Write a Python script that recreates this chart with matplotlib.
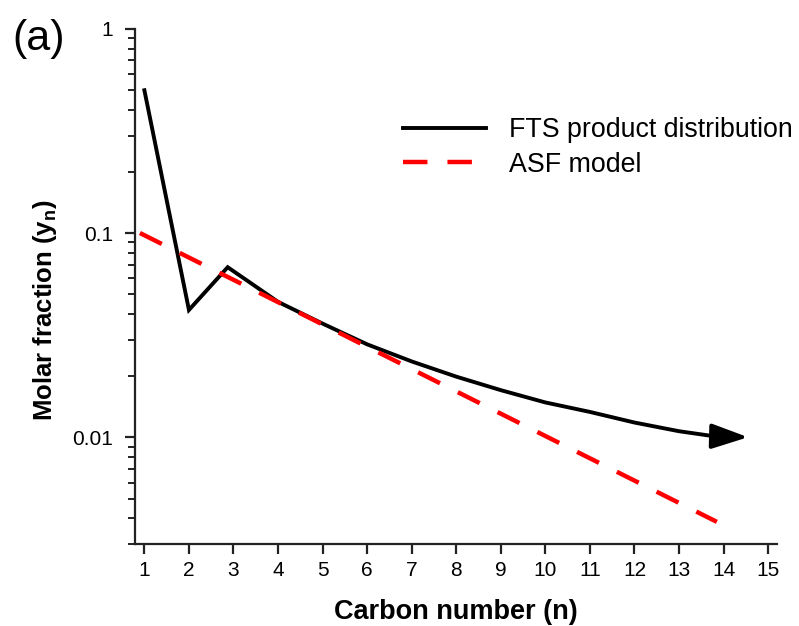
import matplotlib
matplotlib.use("Agg")
import matplotlib.pyplot as plt
from matplotlib.ticker import LogLocator, FixedLocator, NullFormatter

plt.rcParams['font.family'] = ['Liberation Sans', 'DejaVu Sans']
plt.rcParams['mathtext.fontset'] = 'custom'
plt.rcParams['mathtext.bf'] = 'Liberation Sans:bold'
plt.rcParams['mathtext.rm'] = 'Liberation Sans'

# FTS product distribution (molar fraction vs carbon number)
fts_n = [1, 2, 2.87, 4, 5, 6, 7, 8, 9, 10, 11, 12, 13, 13.8]
fts_y = [0.5, 0.042, 0.068, 0.046, 0.036, 0.0285, 0.0235, 0.0198, 0.0170,
         0.0148, 0.0133, 0.0118, 0.0107, 0.0101]
arrow_tip = (14.55, 0.0100)

# ASF model (straight line on log scale)
asf_n = [0.9, 13.85]
asf_y = [0.1, 0.00385]

x_ticks = list(range(1, 16))
y_ticks = [0.01, 0.1, 1]
y_tick_labels = ["0.01", "0.1", "1"]

fig = plt.figure(figsize=(7.99, 6.26), dpi=100)
ax = fig.add_axes([0.169, 0.131, 0.8035, 0.823])

ax.plot(fts_n, fts_y, color='black', lw=2.8, solid_joinstyle='miter',
        label='FTS product distribution')
ax.annotate('', xy=arrow_tip, xytext=(fts_n[-1], fts_y[-1]),
            arrowprops=dict(arrowstyle='-|>,head_length=1.6,head_width=0.55',
                            color='black', lw=2.8, shrinkA=0, shrinkB=0,
                            mutation_scale=14))
ax.plot(asf_n, asf_y, color='#ff0000', lw=3.2, dashes=(5.5, 4.5),
        label='ASF model')

ax.set_yscale('log')
ax.set_xlim(0.79, 15.2)
ax.set_ylim(0.003, 1)

ax.xaxis.set_major_locator(FixedLocator(x_ticks))
ax.set_xticklabels([str(t) for t in x_ticks])
ax.yaxis.set_major_locator(FixedLocator(y_ticks))
ax.set_yticklabels(y_tick_labels)
ax.yaxis.set_minor_locator(LogLocator(base=10, subs=range(2, 10)))
ax.yaxis.set_minor_formatter(NullFormatter())

for side in ('top', 'right'):
    ax.spines[side].set_visible(False)
for side in ('left', 'bottom'):
    ax.spines[side].set_linewidth(1.6)
    ax.spines[side].set_color('#222222')

ax.tick_params(axis='both', which='major', direction='out', length=7,
               width=1.6, color='#222222', labelsize=15, pad=5)
ax.tick_params(axis='y', which='major', pad=9)
ax.tick_params(axis='y', which='minor', direction='out', length=5,
               width=1.4, color='#222222')

ax.set_xlabel('Carbon number (n)', fontsize=19.5, fontweight='bold')
ax.set_ylabel('Molar fraction (y$_\\mathbf{n}$)', fontsize=18.5,
              fontweight='bold')
ax.yaxis.set_label_coords(45 / 799, 0.5, transform=fig.transFigure)
ax.xaxis.set_label_coords(0.5, 1 - 612 / 626, transform=fig.transFigure)
ax.xaxis.label.set_va('center')
ax.yaxis.label.set_va('center')
ax.xaxis.label.set_x((135 + 777) / 2 / 799)
ax.yaxis.label.set_y(1 - 310 / 626)

leg = ax.legend(loc='upper left', bbox_to_anchor=(403 / 799, 1 - 117 / 626),
                bbox_transform=fig.transFigure, frameon=False, fontsize=19.3,
                handlelength=3.1, handletextpad=0.85, labelspacing=0.33,
                borderpad=0, borderaxespad=0)

fig.text(12 / 799, 1 - 39 / 626, '(a)', fontsize=31, va='center', ha='left')

fig.savefig('out.png', dpi=100, facecolor='white')
